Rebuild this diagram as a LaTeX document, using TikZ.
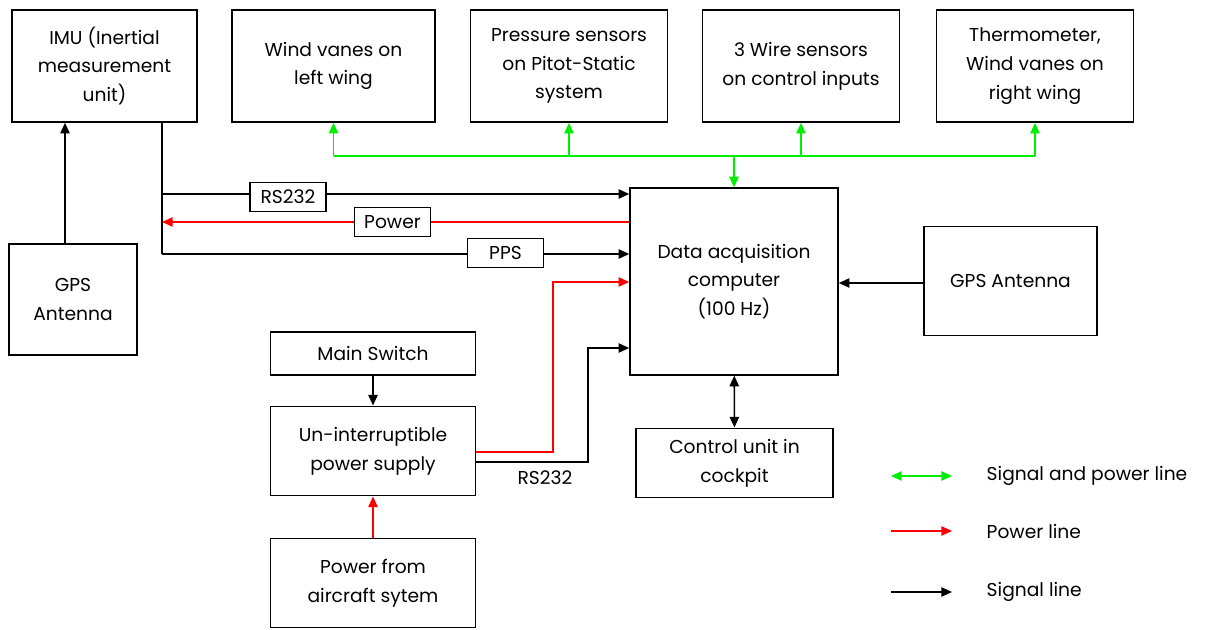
\documentclass[tikz,border=0pt]{standalone}
\usepackage{fontspec}
\setmainfont{Poppins}
\usetikzlibrary{arrows.meta,positioning}
\definecolor{sigblack}{HTML}{000000}
\definecolor{pwrred}{HTML}{FF0000}
\definecolor{busgreen}{HTML}{00EE00}
\tikzset{
  blk/.style={draw=black,line width=1.2pt,align=center,inner sep=2pt,font=\fontsize{14}{21.5}\selectfont},
  tag/.style={draw=black,line width=1.2pt,fill=white,inner sep=2pt,minimum width=57pt,minimum height=22pt,font=\fontsize{14}{16}\selectfont},
  ar/.style={-{Triangle[length=8pt,width=7pt]},line width=1.2pt,draw=sigblack},
  sline/.style={ar},
  pline/.style={ar,draw=pwrred,-{Triangle[length=8pt,width=7pt,fill=pwrred]}},
  gline/.style={ar,draw=busgreen,-{Triangle[length=8pt,width=7pt,fill=busgreen]}},
  legtxt/.style={anchor=west,font=\fontsize{14}{16}\selectfont},
}
\begin{document}
\begin{tikzpicture}[x=0.75pt,y=-0.75pt]
  \useasboundingbox (0,0) rectangle (1207,630);
  % sensor boxes along the top
  \node[blk,minimum width=139pt,minimum height=84pt] (imu) at (104.5,66) {IMU (Inertial\\measurement\\unit)};
  \node[blk,minimum width=152pt,minimum height=84pt] (windl) at (333.5,66) {Wind vanes on\\left wing};
  \node[blk,minimum width=148pt,minimum height=84pt] (press) at (569,66) {Pressure sensors\\on Pitot-Static\\system};
  \node[blk,minimum width=148pt,minimum height=84pt] (wire) at (801,66) {3 Wire sensors\\on control inputs};
  \node[blk,minimum width=148pt,minimum height=84pt] (therm) at (1035,66) {Thermometer,\\Wind vanes on\\right wing};
  % middle row
  \node[blk,minimum width=96pt,minimum height=83pt] (gpsl) at (73,299.5) {GPS\\Antenna};
  \node[blk,minimum width=156pt,minimum height=140pt] (daq) at (734,281.5) {Data acquisition\\computer\\(100 Hz)};
  \node[blk,minimum width=130pt,minimum height=82pt] (gpsr) at (1010.5,281) {GPS Antenna};
  \node[blk,minimum width=148pt,minimum height=52pt] (ctrl) at (734.5,463) {Control unit in\\cockpit};
  % power chain
  \node[blk,minimum width=154pt,minimum height=32pt] (msw) at (373,353.5) {Main Switch};
  \node[blk,minimum width=154pt,minimum height=67pt] (ups) at (373,451) {Un-interruptible\\power supply};
  \node[blk,minimum width=154pt,minimum height=67pt] (pwr) at (373,583) {Power from\\aircraft sytem};

  % IMU bus
  \coordinate (bt) at (imu.south -| 162,0);
  \coordinate (bb) at (162,254);
  \draw[line width=1.2pt] (bt) -- (bb);
  \draw[sline] (162,194) -- (daq.west |- 0,194);
  \draw[pline] (daq.west |- 0,222) -- (162,222);
  \draw[sline] (bb) -- (daq.west |- bb);
  \node[tag] (rs) at (288,197) {RS232};
  \node[tag] (pw) at (392.5,222) {Power};
  \node[tag] (pps) at (505.5,253) {PPS};
  \draw[sline] (gpsl.north -| 65,0) -- (imu.south -| 65,0);

  % green sensor bus
  \coordinate (gbus) at (734,156);
  \draw[busgreen,line width=1.2pt] (windl.south |- gbus) -- (therm.south |- gbus);
  \foreach \n in {windl,press,wire,therm}
    \draw[gline] (\n.south |- gbus) -- (\n.south);
  \draw[gline] (gbus) -- (daq.north);

  % power supply links
  \draw[sline] (msw) -- (ups);
  \draw[pline] (pwr) -- (ups);
  \draw[pline] (ups.east |- 0,452) -| (553,282) -- (daq.west |- 0,282);
  \draw[sline] (ups.east |- 0,462) -| (588,348) -- (daq.west |- 0,348);
  \node[font=\fontsize{14}{16}\selectfont] (rslab) at (545,478) {RS232};
  \draw[sline] (gpsr.west |- 0,283) -- (daq.east |- 0,283);
  \draw[sline,{Triangle[length=8pt,width=7pt]}-{Triangle[length=8pt,width=7pt]}] (daq) -- (ctrl);

  % legend
  \coordinate (l1) at (891,476);
  \coordinate (l2) at (891,531);
  \coordinate (l3) at (891,592);
  \draw[gline,{Triangle[length=8pt,width=7pt,fill=busgreen]}-{Triangle[length=8pt,width=7pt,fill=busgreen]}] (l1) -- ++(61,0);
  \draw[pline] (l2) -- ++(61,0);
  \draw[sline] (l3) -- ++(61,0);
  \node[legtxt] at (982,476) {Signal and power line};
  \node[legtxt] at (982,531) {Power line};
  \node[legtxt] at (982,592) {Signal line};
\end{tikzpicture}
\end{document}
